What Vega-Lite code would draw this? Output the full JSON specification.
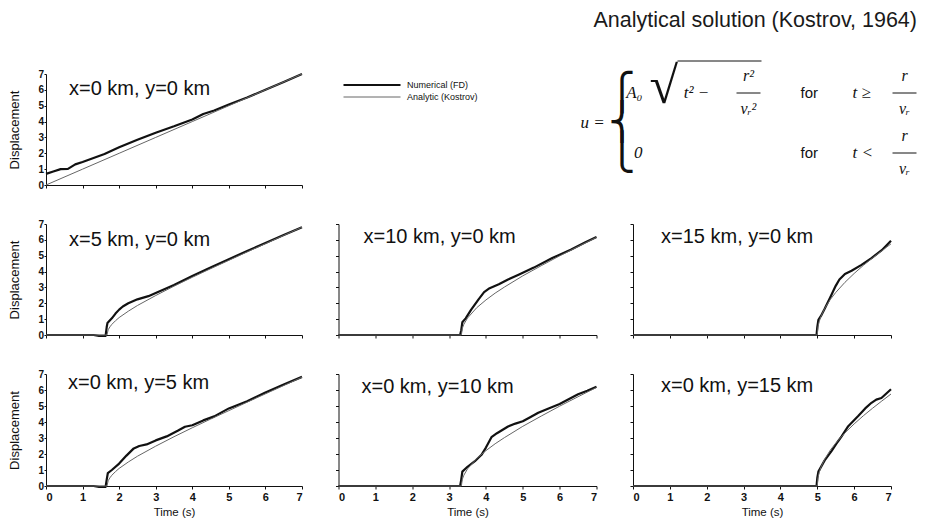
{
  "$schema": "https://vega.github.io/schema/vega-lite/v6.json",
  "padding": {"left": 8, "top": 10, "right": 4, "bottom": 2},
  "background": "white",
  "title": {"text": "Analytical solution (Kostrov, 1964)", "anchor": "end", "frame": "bounds", "fontSize": 21.5, "fontWeight": "normal", "font": "Liberation Sans", "color": "#1a1a1a", "offset": 29},
  "config": {
    "view": {"stroke": null},
    "axis": {"domainColor": "#111", "tickColor": "#111", "labelColor": "#111", "titleColor": "#111", "grid": false, "labelFont": "Liberation Sans", "titleFont": "Liberation Sans", "titleFontWeight": "normal"},
    "legend": {"labelFontSize": 9, "labelFont": "Liberation Sans", "labelColor": "#111", "symbolType": "stroke", "symbolSize": 3249, "clipHeight": 12, "rowPadding": 0, "labelOffset": 5, "padding": 0}
  },
  "datasets": {
    "d": [
      {"p":1,"s":"Numerical (FD)","t":0,"u":0.7},{"p":1,"s":"Numerical (FD)","t":0.2,"u":0.85},{"p":1,"s":"Numerical (FD)","t":0.4,"u":1.0},{"p":1,"s":"Numerical (FD)","t":0.6,"u":1.02},{"p":1,"s":"Numerical (FD)","t":0.8,"u":1.3},{"p":1,"s":"Numerical (FD)","t":1,"u":1.45},{"p":1,"s":"Numerical (FD)","t":1.3,"u":1.7},{"p":1,"s":"Numerical (FD)","t":1.6,"u":1.95},{"p":1,"s":"Numerical (FD)","t":2,"u":2.38},{"p":1,"s":"Numerical (FD)","t":2.5,"u":2.85},{"p":1,"s":"Numerical (FD)","t":3,"u":3.3},{"p":1,"s":"Numerical (FD)","t":3.5,"u":3.7},{"p":1,"s":"Numerical (FD)","t":4,"u":4.13},{"p":1,"s":"Numerical (FD)","t":4.3,"u":4.48},{"p":1,"s":"Numerical (FD)","t":4.6,"u":4.7},{"p":1,"s":"Numerical (FD)","t":5,"u":5.08},{"p":1,"s":"Numerical (FD)","t":5.5,"u":5.52},{"p":1,"s":"Numerical (FD)","t":6,"u":6.0},{"p":1,"s":"Numerical (FD)","t":6.5,"u":6.5},{"p":1,"s":"Numerical (FD)","t":7,"u":7.0},
      {"p":1,"s":"Analytic (Kostrov)","t":0,"u":0},{"p":1,"s":"Analytic (Kostrov)","t":1,"u":1},{"p":1,"s":"Analytic (Kostrov)","t":2,"u":2},{"p":1,"s":"Analytic (Kostrov)","t":3,"u":3},{"p":1,"s":"Analytic (Kostrov)","t":4,"u":4},{"p":1,"s":"Analytic (Kostrov)","t":5,"u":5},{"p":1,"s":"Analytic (Kostrov)","t":6,"u":6},{"p":1,"s":"Analytic (Kostrov)","t":7,"u":7},

      {"p":2,"s":"Numerical (FD)","t":0,"u":0},{"p":2,"s":"Numerical (FD)","t":1.3,"u":0},{"p":2,"s":"Numerical (FD)","t":1.45,"u":-0.05},{"p":2,"s":"Numerical (FD)","t":1.63,"u":-0.05},{"p":2,"s":"Numerical (FD)","t":1.66,"u":0.5},{"p":2,"s":"Numerical (FD)","t":1.68,"u":0.75},{"p":2,"s":"Numerical (FD)","t":1.8,"u":1.05},{"p":2,"s":"Numerical (FD)","t":1.9,"u":1.35},{"p":2,"s":"Numerical (FD)","t":2,"u":1.6},{"p":2,"s":"Numerical (FD)","t":2.1,"u":1.8},{"p":2,"s":"Numerical (FD)","t":2.25,"u":2.0},{"p":2,"s":"Numerical (FD)","t":2.5,"u":2.25},{"p":2,"s":"Numerical (FD)","t":2.8,"u":2.45},{"p":2,"s":"Numerical (FD)","t":3,"u":2.65},{"p":2,"s":"Numerical (FD)","t":3.5,"u":3.15},{"p":2,"s":"Numerical (FD)","t":4,"u":3.72},{"p":2,"s":"Numerical (FD)","t":4.5,"u":4.25},{"p":2,"s":"Numerical (FD)","t":5,"u":4.78},{"p":2,"s":"Numerical (FD)","t":5.5,"u":5.3},{"p":2,"s":"Numerical (FD)","t":6,"u":5.8},{"p":2,"s":"Numerical (FD)","t":6.5,"u":6.3},{"p":2,"s":"Numerical (FD)","t":7,"u":6.8},
      {"p":2,"s":"Analytic (Kostrov)","t":0,"u":0},{"p":2,"s":"Analytic (Kostrov)","t":1.667,"u":0},{"p":2,"s":"Analytic (Kostrov)","t":1.7,"u":0.33},{"p":2,"s":"Analytic (Kostrov)","t":1.75,"u":0.52},{"p":2,"s":"Analytic (Kostrov)","t":1.8,"u":0.67},{"p":2,"s":"Analytic (Kostrov)","t":1.9,"u":0.9},{"p":2,"s":"Analytic (Kostrov)","t":2,"u":1.1},{"p":2,"s":"Analytic (Kostrov)","t":2.25,"u":1.5},{"p":2,"s":"Analytic (Kostrov)","t":2.5,"u":1.86},{"p":2,"s":"Analytic (Kostrov)","t":3,"u":2.49},{"p":2,"s":"Analytic (Kostrov)","t":3.5,"u":3.08},{"p":2,"s":"Analytic (Kostrov)","t":4,"u":3.64},{"p":2,"s":"Analytic (Kostrov)","t":4.5,"u":4.18},{"p":2,"s":"Analytic (Kostrov)","t":5,"u":4.71},{"p":2,"s":"Analytic (Kostrov)","t":5.5,"u":5.24},{"p":2,"s":"Analytic (Kostrov)","t":6,"u":5.76},{"p":2,"s":"Analytic (Kostrov)","t":6.5,"u":6.28},{"p":2,"s":"Analytic (Kostrov)","t":7,"u":6.8},

      {"p":3,"s":"Numerical (FD)","t":0,"u":0},{"p":3,"s":"Numerical (FD)","t":3.3,"u":0},{"p":3,"s":"Numerical (FD)","t":3.33,"u":0.3},{"p":3,"s":"Numerical (FD)","t":3.36,"u":0.8},{"p":3,"s":"Numerical (FD)","t":3.45,"u":1.05},{"p":3,"s":"Numerical (FD)","t":3.6,"u":1.6},{"p":3,"s":"Numerical (FD)","t":3.8,"u":2.25},{"p":3,"s":"Numerical (FD)","t":3.95,"u":2.7},{"p":3,"s":"Numerical (FD)","t":4.1,"u":2.95},{"p":3,"s":"Numerical (FD)","t":4.35,"u":3.2},{"p":3,"s":"Numerical (FD)","t":4.6,"u":3.5},{"p":3,"s":"Numerical (FD)","t":4.9,"u":3.82},{"p":3,"s":"Numerical (FD)","t":5.3,"u":4.25},{"p":3,"s":"Numerical (FD)","t":5.8,"u":4.85},{"p":3,"s":"Numerical (FD)","t":6.3,"u":5.38},{"p":3,"s":"Numerical (FD)","t":6.7,"u":5.85},{"p":3,"s":"Numerical (FD)","t":7,"u":6.18},
      {"p":3,"s":"Analytic (Kostrov)","t":0,"u":0},{"p":3,"s":"Analytic (Kostrov)","t":3.333,"u":0},{"p":3,"s":"Analytic (Kostrov)","t":3.36,"u":0.42},{"p":3,"s":"Analytic (Kostrov)","t":3.4,"u":0.67},{"p":3,"s":"Analytic (Kostrov)","t":3.5,"u":1.07},{"p":3,"s":"Analytic (Kostrov)","t":3.75,"u":1.72},{"p":3,"s":"Analytic (Kostrov)","t":4,"u":2.21},{"p":3,"s":"Analytic (Kostrov)","t":4.25,"u":2.64},{"p":3,"s":"Analytic (Kostrov)","t":4.5,"u":3.02},{"p":3,"s":"Analytic (Kostrov)","t":5,"u":3.73},{"p":3,"s":"Analytic (Kostrov)","t":5.5,"u":4.37},{"p":3,"s":"Analytic (Kostrov)","t":6,"u":4.99},{"p":3,"s":"Analytic (Kostrov)","t":6.5,"u":5.58},{"p":3,"s":"Analytic (Kostrov)","t":7,"u":6.16},

      {"p":4,"s":"Numerical (FD)","t":0,"u":0},{"p":4,"s":"Numerical (FD)","t":4.98,"u":0},{"p":4,"s":"Numerical (FD)","t":5,"u":0.5},{"p":4,"s":"Numerical (FD)","t":5.03,"u":0.95},{"p":4,"s":"Numerical (FD)","t":5.1,"u":1.2},{"p":4,"s":"Numerical (FD)","t":5.2,"u":1.65},{"p":4,"s":"Numerical (FD)","t":5.35,"u":2.37},{"p":4,"s":"Numerical (FD)","t":5.5,"u":3.1},{"p":4,"s":"Numerical (FD)","t":5.6,"u":3.5},{"p":4,"s":"Numerical (FD)","t":5.75,"u":3.85},{"p":4,"s":"Numerical (FD)","t":5.93,"u":4.05},{"p":4,"s":"Numerical (FD)","t":6.2,"u":4.42},{"p":4,"s":"Numerical (FD)","t":6.47,"u":4.85},{"p":4,"s":"Numerical (FD)","t":6.75,"u":5.35},{"p":4,"s":"Numerical (FD)","t":7,"u":5.95},
      {"p":4,"s":"Analytic (Kostrov)","t":0,"u":0},{"p":4,"s":"Analytic (Kostrov)","t":5,"u":0},{"p":4,"s":"Analytic (Kostrov)","t":5.02,"u":0.52},{"p":4,"s":"Analytic (Kostrov)","t":5.05,"u":0.83},{"p":4,"s":"Analytic (Kostrov)","t":5.1,"u":1.18},{"p":4,"s":"Analytic (Kostrov)","t":5.2,"u":1.67},{"p":4,"s":"Analytic (Kostrov)","t":5.35,"u":2.23},{"p":4,"s":"Analytic (Kostrov)","t":5.5,"u":2.68},{"p":4,"s":"Analytic (Kostrov)","t":5.75,"u":3.32},{"p":4,"s":"Analytic (Kostrov)","t":6,"u":3.88},{"p":4,"s":"Analytic (Kostrov)","t":6.25,"u":4.39},{"p":4,"s":"Analytic (Kostrov)","t":6.5,"u":4.86},{"p":4,"s":"Analytic (Kostrov)","t":6.75,"u":5.31},{"p":4,"s":"Analytic (Kostrov)","t":7,"u":5.75},

      {"p":5,"s":"Numerical (FD)","t":0,"u":0},{"p":5,"s":"Numerical (FD)","t":1.3,"u":0},{"p":5,"s":"Numerical (FD)","t":1.45,"u":-0.05},{"p":5,"s":"Numerical (FD)","t":1.63,"u":-0.05},{"p":5,"s":"Numerical (FD)","t":1.66,"u":0.4},{"p":5,"s":"Numerical (FD)","t":1.69,"u":0.8},{"p":5,"s":"Numerical (FD)","t":1.8,"u":1.0},{"p":5,"s":"Numerical (FD)","t":2,"u":1.4},{"p":5,"s":"Numerical (FD)","t":2.2,"u":1.9},{"p":5,"s":"Numerical (FD)","t":2.4,"u":2.35},{"p":5,"s":"Numerical (FD)","t":2.55,"u":2.5},{"p":5,"s":"Numerical (FD)","t":2.75,"u":2.6},{"p":5,"s":"Numerical (FD)","t":3,"u":2.85},{"p":5,"s":"Numerical (FD)","t":3.3,"u":3.1},{"p":5,"s":"Numerical (FD)","t":3.6,"u":3.45},{"p":5,"s":"Numerical (FD)","t":3.8,"u":3.7},{"p":5,"s":"Numerical (FD)","t":4,"u":3.8},{"p":5,"s":"Numerical (FD)","t":4.3,"u":4.1},{"p":5,"s":"Numerical (FD)","t":4.6,"u":4.35},{"p":5,"s":"Numerical (FD)","t":5,"u":4.85},{"p":5,"s":"Numerical (FD)","t":5.5,"u":5.3},{"p":5,"s":"Numerical (FD)","t":6,"u":5.85},{"p":5,"s":"Numerical (FD)","t":6.5,"u":6.35},{"p":5,"s":"Numerical (FD)","t":7,"u":6.82},
      {"p":5,"s":"Analytic (Kostrov)","t":0,"u":0},{"p":5,"s":"Analytic (Kostrov)","t":1.667,"u":0},{"p":5,"s":"Analytic (Kostrov)","t":1.7,"u":0.33},{"p":5,"s":"Analytic (Kostrov)","t":1.75,"u":0.52},{"p":5,"s":"Analytic (Kostrov)","t":1.8,"u":0.67},{"p":5,"s":"Analytic (Kostrov)","t":1.9,"u":0.9},{"p":5,"s":"Analytic (Kostrov)","t":2,"u":1.1},{"p":5,"s":"Analytic (Kostrov)","t":2.25,"u":1.5},{"p":5,"s":"Analytic (Kostrov)","t":2.5,"u":1.86},{"p":5,"s":"Analytic (Kostrov)","t":3,"u":2.49},{"p":5,"s":"Analytic (Kostrov)","t":3.5,"u":3.08},{"p":5,"s":"Analytic (Kostrov)","t":4,"u":3.64},{"p":5,"s":"Analytic (Kostrov)","t":4.5,"u":4.18},{"p":5,"s":"Analytic (Kostrov)","t":5,"u":4.71},{"p":5,"s":"Analytic (Kostrov)","t":5.5,"u":5.24},{"p":5,"s":"Analytic (Kostrov)","t":6,"u":5.76},{"p":5,"s":"Analytic (Kostrov)","t":6.5,"u":6.28},{"p":5,"s":"Analytic (Kostrov)","t":7,"u":6.8},

      {"p":6,"s":"Numerical (FD)","t":0,"u":0},{"p":6,"s":"Numerical (FD)","t":3.3,"u":0},{"p":6,"s":"Numerical (FD)","t":3.33,"u":0.4},{"p":6,"s":"Numerical (FD)","t":3.36,"u":0.9},{"p":6,"s":"Numerical (FD)","t":3.5,"u":1.2},{"p":6,"s":"Numerical (FD)","t":3.7,"u":1.55},{"p":6,"s":"Numerical (FD)","t":3.88,"u":1.95},{"p":6,"s":"Numerical (FD)","t":4,"u":2.4},{"p":6,"s":"Numerical (FD)","t":4.15,"u":3.05},{"p":6,"s":"Numerical (FD)","t":4.3,"u":3.3},{"p":6,"s":"Numerical (FD)","t":4.6,"u":3.72},{"p":6,"s":"Numerical (FD)","t":4.8,"u":3.9},{"p":6,"s":"Numerical (FD)","t":5,"u":4.05},{"p":6,"s":"Numerical (FD)","t":5.2,"u":4.3},{"p":6,"s":"Numerical (FD)","t":5.42,"u":4.58},{"p":6,"s":"Numerical (FD)","t":5.7,"u":4.85},{"p":6,"s":"Numerical (FD)","t":6,"u":5.12},{"p":6,"s":"Numerical (FD)","t":6.5,"u":5.73},{"p":6,"s":"Numerical (FD)","t":6.75,"u":5.95},{"p":6,"s":"Numerical (FD)","t":7,"u":6.2},
      {"p":6,"s":"Analytic (Kostrov)","t":0,"u":0},{"p":6,"s":"Analytic (Kostrov)","t":3.333,"u":0},{"p":6,"s":"Analytic (Kostrov)","t":3.36,"u":0.42},{"p":6,"s":"Analytic (Kostrov)","t":3.4,"u":0.67},{"p":6,"s":"Analytic (Kostrov)","t":3.5,"u":1.07},{"p":6,"s":"Analytic (Kostrov)","t":3.75,"u":1.72},{"p":6,"s":"Analytic (Kostrov)","t":4,"u":2.21},{"p":6,"s":"Analytic (Kostrov)","t":4.25,"u":2.64},{"p":6,"s":"Analytic (Kostrov)","t":4.5,"u":3.02},{"p":6,"s":"Analytic (Kostrov)","t":5,"u":3.73},{"p":6,"s":"Analytic (Kostrov)","t":5.5,"u":4.37},{"p":6,"s":"Analytic (Kostrov)","t":6,"u":4.99},{"p":6,"s":"Analytic (Kostrov)","t":6.5,"u":5.58},{"p":6,"s":"Analytic (Kostrov)","t":7,"u":6.16},

      {"p":7,"s":"Numerical (FD)","t":0,"u":0},{"p":7,"s":"Numerical (FD)","t":4.98,"u":0},{"p":7,"s":"Numerical (FD)","t":5,"u":0.5},{"p":7,"s":"Numerical (FD)","t":5.03,"u":0.9},{"p":7,"s":"Numerical (FD)","t":5.2,"u":1.6},{"p":7,"s":"Numerical (FD)","t":5.39,"u":2.2},{"p":7,"s":"Numerical (FD)","t":5.55,"u":2.75},{"p":7,"s":"Numerical (FD)","t":5.66,"u":3.1},{"p":7,"s":"Numerical (FD)","t":5.84,"u":3.74},{"p":7,"s":"Numerical (FD)","t":6.11,"u":4.37},{"p":7,"s":"Numerical (FD)","t":6.3,"u":4.85},{"p":7,"s":"Numerical (FD)","t":6.47,"u":5.2},{"p":7,"s":"Numerical (FD)","t":6.6,"u":5.4},{"p":7,"s":"Numerical (FD)","t":6.74,"u":5.5},{"p":7,"s":"Numerical (FD)","t":7,"u":6.05},
      {"p":7,"s":"Analytic (Kostrov)","t":0,"u":0},{"p":7,"s":"Analytic (Kostrov)","t":5,"u":0},{"p":7,"s":"Analytic (Kostrov)","t":5.02,"u":0.52},{"p":7,"s":"Analytic (Kostrov)","t":5.05,"u":0.83},{"p":7,"s":"Analytic (Kostrov)","t":5.1,"u":1.18},{"p":7,"s":"Analytic (Kostrov)","t":5.2,"u":1.67},{"p":7,"s":"Analytic (Kostrov)","t":5.35,"u":2.23},{"p":7,"s":"Analytic (Kostrov)","t":5.5,"u":2.68},{"p":7,"s":"Analytic (Kostrov)","t":5.75,"u":3.32},{"p":7,"s":"Analytic (Kostrov)","t":6,"u":3.88},{"p":7,"s":"Analytic (Kostrov)","t":6.25,"u":4.39},{"p":7,"s":"Analytic (Kostrov)","t":6.5,"u":4.86},{"p":7,"s":"Analytic (Kostrov)","t":6.75,"u":5.31},{"p":7,"s":"Analytic (Kostrov)","t":7,"u":5.75}
    ]
  },
  "data": {"name": "d"},
  "vconcat": [
    {
      "hconcat": [
        {
          "width": 256, "height": 111,
          "title": {"text": "x=0 km, y=0 km", "anchor": "start", "frame": "group", "fontSize": 20, "fontWeight": "normal", "font": "Liberation Sans", "color": "#111", "baseline": "alphabetic", "offset": 0, "dy": 46, "dx": 23},
          "transform": [{"filter": "datum.p == 1"}],
          "mark": {"type": "line", "strokeJoin": "round"},
          "encoding": {
            "x": {"field": "t", "type": "quantitative", "scale": {"domain": [0, 7], "nice": false}, "axis": {"values": [0,1,2,3,4,5,6,7], "labels": false, "title": null, "tickSize": 3}},
            "y": {"field": "u", "type": "quantitative", "scale": {"domain": [0, 7], "nice": false}, "axis": {"values": [0,1,2,3,4,5,6,7], "title": "Displacement", "titleFontSize": 13, "titlePadding": 16, "labelFontSize": 10, "labelFontWeight": "bold", "tickSize": 2, "labelPadding": 0.5}},
            "color": {"field": "s", "type": "nominal", "scale": {"domain": ["Numerical (FD)", "Analytic (Kostrov)"], "range": ["#111111", "#666666"]}, "legend": {"orient": "none", "legendX": 296, "legendY": 5, "title": null}},
            "strokeWidth": {"field": "s", "type": "nominal", "scale": {"domain": ["Numerical (FD)", "Analytic (Kostrov)"], "range": [2.2, 1]}, "legend": {"orient": "none", "legendX": 296, "legendY": 5, "title": null}}
          }
        },
        {
          "width": 578, "height": 111,
          "data": {"values": [
            {"k":"main","slot":"lhs","line":"mid","txt":"u ="},
            {"k":"brace","slot":"lhs","line":"1","txt":"⎧"},
            {"k":"brace","slot":"lhs","line":"mid","txt":"⎨"},
            {"k":"brace","slot":"lhs","line":"2","txt":"⎩"},
            {"k":"coef","slot":"coef","line":"1","txt":"A₀"},
            {"k":"coef","slot":"coef","line":"2","txt":"0"},
            {"k":"root","slot":"coef","line":"1","txt":"√"},
            {"k":"main","slot":"rad","line":"1","txt":"t² −"},
            {"k":"num","slot":"frac1","line":"1","txt":"r²"},
            {"k":"den","slot":"frac1","line":"1","txt":"vᵣ²"},
            {"k":"bar","slot":"frac1","line":"1"},
            {"k":"over","slot":"rad","slot2":"frac1","line":"1"},
            {"k":"for","slot":"for","line":"1","txt":"for"},
            {"k":"for","slot":"for","line":"2","txt":"for"},
            {"k":"rel","slot":"rel","line":"1","txt":"t ≥"},
            {"k":"rel","slot":"rel","line":"2","txt":"t <"},
            {"k":"num","slot":"frac2","line":"1","txt":"r"},
            {"k":"num","slot":"frac2","line":"2","txt":"r"},
            {"k":"den","slot":"frac2","line":"1","txt":"vᵣ"},
            {"k":"den","slot":"frac2","line":"2","txt":"vᵣ"},
            {"k":"bar","slot":"frac2","line":"1"},
            {"k":"bar","slot":"frac2","line":"2"}
          ]},
          "encoding": {
            "x": {"field": "slot", "type": "nominal", "scale": {"type": "point", "domain": ["lhs","coef","rad","frac1","for","rel","frac2"], "range": [254, 566], "padding": 0}, "axis": null},
            "y": {"field": "line", "type": "nominal", "scale": {"type": "point", "domain": ["1","mid","2"], "range": [19, 79], "padding": 0}, "axis": null}
          },
          "layer": [
            {"transform": [{"filter": "datum.k == 'main'"}], "mark": {"type": "text", "font": "Liberation Serif", "fontStyle": "italic", "fontSize": 17, "align": "center", "color": "#111"}, "encoding": {"text": {"field": "txt", "type": "nominal"}}},
            {"transform": [{"filter": "datum.k == 'brace'"}], "mark": {"type": "text", "font": "DejaVu Sans", "fontSize": 36, "align": "left", "dx": 16, "color": "#111"}, "encoding": {"text": {"field": "txt", "type": "nominal"}}},
            {"transform": [{"filter": "datum.k == 'coef'"}], "mark": {"type": "text", "font": "Liberation Serif", "fontStyle": "italic", "fontSize": 17, "align": "right", "dx": -2, "color": "#111"}, "encoding": {"text": {"field": "txt", "type": "nominal"}}},
            {"transform": [{"filter": "datum.k == 'root'"}], "mark": {"type": "text", "font": "Liberation Serif", "fontSize": 52, "align": "left", "dx": 5, "dy": -6, "color": "#111"}, "encoding": {"text": {"field": "txt", "type": "nominal"}}},
            {"transform": [{"filter": "datum.k == 'num'"}], "mark": {"type": "text", "font": "Liberation Serif", "fontStyle": "italic", "fontSize": 16, "align": "center", "dy": -17, "color": "#111"}, "encoding": {"text": {"field": "txt", "type": "nominal"}}},
            {"transform": [{"filter": "datum.k == 'den'"}], "mark": {"type": "text", "font": "Liberation Serif", "fontStyle": "italic", "fontSize": 16, "align": "center", "dy": 16, "color": "#111"}, "encoding": {"text": {"field": "txt", "type": "nominal"}}},
            {"transform": [{"filter": "datum.k == 'for'"}], "mark": {"type": "text", "font": "Liberation Sans", "fontSize": 15, "align": "left", "color": "#111"}, "encoding": {"text": {"field": "txt", "type": "nominal"}}},
            {"transform": [{"filter": "datum.k == 'rel'"}], "mark": {"type": "text", "font": "Liberation Serif", "fontStyle": "italic", "fontSize": 17, "align": "left", "color": "#111"}, "encoding": {"text": {"field": "txt", "type": "nominal"}}},
            {"transform": [{"filter": "datum.k == 'bar'"}], "mark": {"type": "rule", "xOffset": -12, "x2Offset": 12, "color": "#111", "strokeWidth": 1}, "encoding": {"x2": {"field": "slot"}}},
            {"transform": [{"filter": "datum.k == 'over'"}], "mark": {"type": "rule", "xOffset": -19, "x2Offset": 13, "yOffset": -32, "color": "#111", "strokeWidth": 1}, "encoding": {"x2": {"field": "slot2"}}}
          ]
        }
      ],
      "spacing": 36.5, "bounds": "flush"
    },
    {
      "hconcat": [
        {
          "width": 256, "height": 111,
          "title": {"text": "x=5 km, y=0 km", "anchor": "start", "frame": "group", "fontSize": 20, "fontWeight": "normal", "font": "Liberation Sans", "color": "#111", "baseline": "alphabetic", "offset": 0, "dy": 47, "dx": 23},
          "transform": [{"filter": "datum.p == 2"}],
          "mark": {"type": "line", "strokeJoin": "round"},
          "encoding": {
            "x": {"field": "t", "type": "quantitative", "scale": {"domain": [0, 7], "nice": false}, "axis": {"values": [0,1,2,3,4,5,6,7], "labels": false, "title": null, "tickSize": 3}},
            "y": {"field": "u", "type": "quantitative", "scale": {"domain": [0, 7], "nice": false}, "axis": {"values": [0,1,2,3,4,5,6,7], "title": "Displacement", "titleFontSize": 13, "titlePadding": 16, "labelFontSize": 10, "labelFontWeight": "bold", "tickSize": 2, "labelPadding": 0.5}},
            "color": {"field": "s", "type": "nominal", "scale": {"domain": ["Numerical (FD)", "Analytic (Kostrov)"], "range": ["#111111", "#333333"]}, "legend": null},
            "strokeWidth": {"field": "s", "type": "nominal", "scale": {"domain": ["Numerical (FD)", "Analytic (Kostrov)"], "range": [2.2, 1]}, "legend": null}
          }
        },
        {
          "width": 258, "height": 111,
          "title": {"text": "x=10 km, y=0 km", "anchor": "start", "frame": "group", "fontSize": 20, "fontWeight": "normal", "font": "Liberation Sans", "color": "#111", "baseline": "alphabetic", "offset": 0, "dy": 39, "dx": 25},
          "transform": [{"filter": "datum.p == 3"}],
          "mark": {"type": "line", "strokeJoin": "round"},
          "encoding": {
            "x": {"field": "t", "type": "quantitative", "scale": {"domain": [0, 7], "nice": false}, "axis": {"values": [0,1,2,3,4,5,6,7], "labels": false, "title": null, "tickSize": 3}},
            "y": {"field": "u", "type": "quantitative", "scale": {"domain": [0, 7], "nice": false}, "axis": {"values": [0,1,2,3,4,5,6,7], "labels": false, "title": null, "tickSize": 3}},
            "color": {"field": "s", "type": "nominal", "scale": {"domain": ["Numerical (FD)", "Analytic (Kostrov)"], "range": ["#111111", "#333333"]}, "legend": null},
            "strokeWidth": {"field": "s", "type": "nominal", "scale": {"domain": ["Numerical (FD)", "Analytic (Kostrov)"], "range": [2.2, 1]}, "legend": null}
          }
        },
        {
          "width": 258, "height": 111,
          "title": {"text": "x=15 km, y=0 km", "anchor": "start", "frame": "group", "fontSize": 20, "fontWeight": "normal", "font": "Liberation Sans", "color": "#111", "baseline": "alphabetic", "offset": 0, "dy": 39, "dx": 28},
          "transform": [{"filter": "datum.p == 4"}],
          "mark": {"type": "line", "strokeJoin": "round"},
          "encoding": {
            "x": {"field": "t", "type": "quantitative", "scale": {"domain": [0, 7], "nice": false}, "axis": {"values": [0,1,2,3,4,5,6,7], "labels": false, "title": null, "tickSize": 3}},
            "y": {"field": "u", "type": "quantitative", "scale": {"domain": [0, 7], "nice": false}, "axis": {"values": [0,1,2,3,4,5,6,7], "labels": false, "title": null, "tickSize": 3}},
            "color": {"field": "s", "type": "nominal", "scale": {"domain": ["Numerical (FD)", "Analytic (Kostrov)"], "range": ["#111111", "#333333"]}, "legend": null},
            "strokeWidth": {"field": "s", "type": "nominal", "scale": {"domain": ["Numerical (FD)", "Analytic (Kostrov)"], "range": [2.2, 1]}, "legend": null}
          }
        }
      ],
      "spacing": 36.5, "bounds": "flush"
    },
    {
      "hconcat": [
        {
          "width": 256, "height": 112,
          "title": {"text": "x=0 km, y=5 km", "anchor": "start", "frame": "group", "fontSize": 20, "fontWeight": "normal", "font": "Liberation Sans", "color": "#111", "baseline": "alphabetic", "offset": 0, "dy": 40, "dx": 22},
          "transform": [{"filter": "datum.p == 5"}],
          "mark": {"type": "line", "strokeJoin": "round"},
          "encoding": {
            "x": {"field": "t", "type": "quantitative", "scale": {"domain": [0, 7], "nice": false}, "axis": {"values": [0,1,2,3,4,5,6,7], "title": "Time (s)", "tickSize": 3, "labelFontSize": 11, "labelFontWeight": "bold", "labelPadding": 2, "titleFontSize": 11.5, "titlePadding": 4}},
            "y": {"field": "u", "type": "quantitative", "scale": {"domain": [0, 7], "nice": false}, "axis": {"values": [0,1,2,3,4,5,6,7], "title": "Displacement", "titleFontSize": 13, "titlePadding": 16, "labelFontSize": 10, "labelFontWeight": "bold", "tickSize": 2, "labelPadding": 0.5}},
            "color": {"field": "s", "type": "nominal", "scale": {"domain": ["Numerical (FD)", "Analytic (Kostrov)"], "range": ["#111111", "#333333"]}, "legend": null},
            "strokeWidth": {"field": "s", "type": "nominal", "scale": {"domain": ["Numerical (FD)", "Analytic (Kostrov)"], "range": [2.2, 1]}, "legend": null}
          }
        },
        {
          "width": 258, "height": 112,
          "title": {"text": "x=0 km, y=10 km", "anchor": "start", "frame": "group", "fontSize": 20, "fontWeight": "normal", "font": "Liberation Sans", "color": "#111", "baseline": "alphabetic", "offset": 0, "dy": 39, "dx": 23},
          "transform": [{"filter": "datum.p == 6"}],
          "mark": {"type": "line", "strokeJoin": "round"},
          "encoding": {
            "x": {"field": "t", "type": "quantitative", "scale": {"domain": [0, 7], "nice": false}, "axis": {"values": [0,1,2,3,4,5,6,7], "title": "Time (s)", "tickSize": 3, "labelFontSize": 11, "labelFontWeight": "bold", "labelPadding": 2, "titleFontSize": 11.5, "titlePadding": 4}},
            "y": {"field": "u", "type": "quantitative", "scale": {"domain": [0, 7], "nice": false}, "axis": {"values": [0,1,2,3,4,5,6,7], "labels": false, "title": null, "tickSize": 3}},
            "color": {"field": "s", "type": "nominal", "scale": {"domain": ["Numerical (FD)", "Analytic (Kostrov)"], "range": ["#111111", "#333333"]}, "legend": null},
            "strokeWidth": {"field": "s", "type": "nominal", "scale": {"domain": ["Numerical (FD)", "Analytic (Kostrov)"], "range": [2.2, 1]}, "legend": null}
          }
        },
        {
          "width": 258, "height": 112,
          "title": {"text": "x=0 km, y=15 km", "anchor": "start", "frame": "group", "fontSize": 20, "fontWeight": "normal", "font": "Liberation Sans", "color": "#111", "baseline": "alphabetic", "offset": 0, "dy": 38, "dx": 28},
          "transform": [{"filter": "datum.p == 7"}],
          "mark": {"type": "line", "strokeJoin": "round"},
          "encoding": {
            "x": {"field": "t", "type": "quantitative", "scale": {"domain": [0, 7], "nice": false}, "axis": {"values": [0,1,2,3,4,5,6,7], "title": "Time (s)", "tickSize": 3, "labelFontSize": 11, "labelFontWeight": "bold", "labelPadding": 2, "titleFontSize": 11.5, "titlePadding": 4}},
            "y": {"field": "u", "type": "quantitative", "scale": {"domain": [0, 7], "nice": false}, "axis": {"values": [0,1,2,3,4,5,6,7], "labels": false, "title": null, "tickSize": 3}},
            "color": {"field": "s", "type": "nominal", "scale": {"domain": ["Numerical (FD)", "Analytic (Kostrov)"], "range": ["#111111", "#333333"]}, "legend": null},
            "strokeWidth": {"field": "s", "type": "nominal", "scale": {"domain": ["Numerical (FD)", "Analytic (Kostrov)"], "range": [2.2, 1]}, "legend": null}
          }
        }
      ],
      "spacing": 36.5, "bounds": "flush"
    }
  ],
  "spacing": 29
}
